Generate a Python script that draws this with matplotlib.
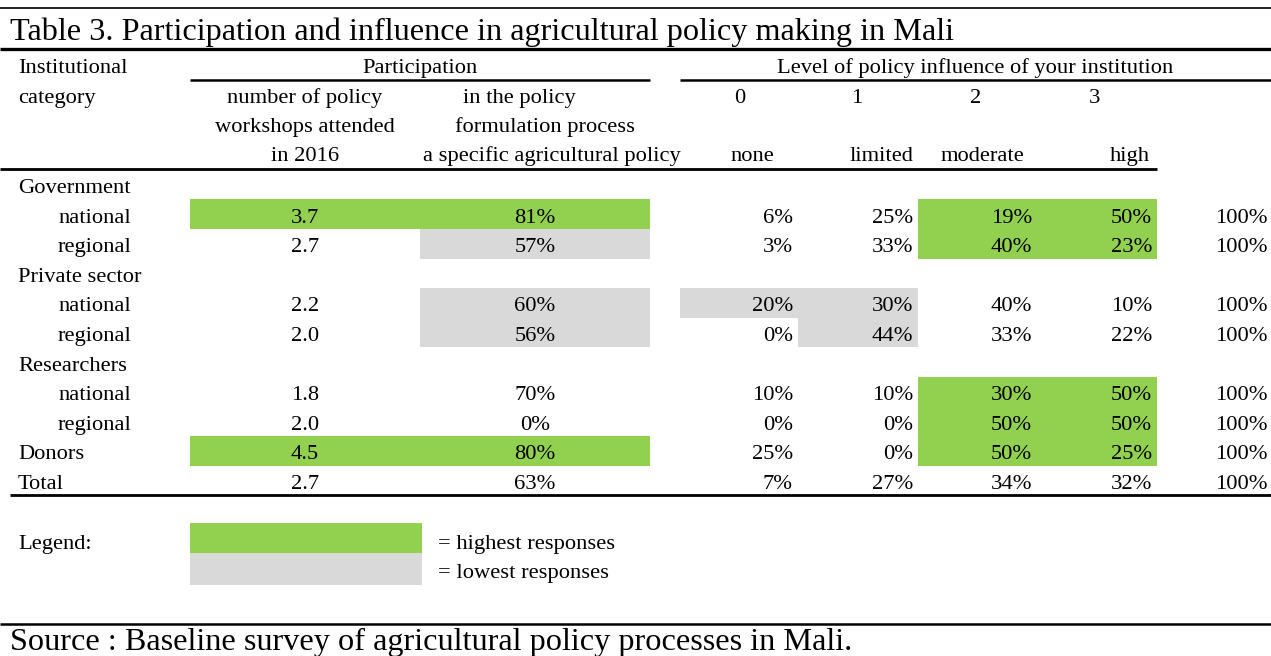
import matplotlib
matplotlib.use("Agg")
import matplotlib.pyplot as plt
from matplotlib.patches import Rectangle

# ---------------- data ----------------
title = "Table 3. Participation and influence in agricultural policy making in Mali"
source = "Source : Baseline survey of agricultural policy processes in Mali."

row_labels = ["Government", "national", "regional", "Private sector", "national", "regional",
              "Researchers", "national", "regional", "Donors", "Total"]
row_indent = [0, 1, 1, 0, 1, 1, 0, 1, 1, 0, 0]
data_rows = [1, 2, 4, 5, 7, 8, 9, 10]

workshops = [3.7, 2.7, 2.2, 2.0, 1.8, 2.0, 4.5, 2.7]
policy_pct = [81, 57, 60, 56, 70, 0, 80, 63]
infl_none = [6, 3, 20, 0, 10, 0, 25, 7]
infl_limited = [25, 33, 30, 44, 10, 0, 0, 27]
infl_moderate = [19, 40, 40, 33, 30, 50, 50, 34]
infl_high = [50, 23, 10, 22, 50, 50, 25, 32]
infl_total = [100, 100, 100, 100, 100, 100, 100, 100]

# highlight codes per data row for columns [workshops, policy, none, limited, moderate, high]
# "G" = highest, "L" = lowest, "" = none
highlights = [
    ["G", "G", "", "", "G", "G"],
    ["", "L", "", "", "G", "G"],
    ["", "L", "L", "L", "", ""],
    ["", "L", "", "L", "", ""],
    ["", "", "", "", "G", "G"],
    ["", "", "", "", "G", "G"],
    ["G", "G", "", "", "G", "G"],
    ["", "", "", "", "", ""],
]

level_nums = ["0", "1", "2", "3"]
level_names = ["none", "limited", "moderate", "high"]

GREEN = "#92D050"
GRAY = "#D9D9D9"

# ---------------- figure ----------------
W, H = 1271, 656
fig = plt.figure(figsize=(W / 100, H / 100), dpi=100)
ax = fig.add_axes([0, 0, 1, 1])
ax.set_xlim(0, W)
ax.set_ylim(H, 0)
ax.axis("off")

FONT = "Liberation Serif"
FS = 16.2
TFS = 23.2

def txt(x, y, s, ha="left", fs=FS):
    # y is the text baseline
    ax.text(x, y, s, ha=ha, va="baseline", fontsize=fs, family=FONT, color="black")

def hline(y, x0, x1, lw):
    ax.plot([x0, x1], [y, y], color="black", lw=lw, solid_capstyle="butt")

# title
hline(8, 0, W, 1.2)
txt(10, 40, title, fs=TFS)
hline(49, 0, W, 2.4)

# header
txt(18, 73, "Institutional")
txt(18, 103, "category")
txt(420, 73, "Participation", ha="center")
hline(80, 190, 650, 1.8)
txt(975, 73, "Level of policy influence of your institution", ha="center")
hline(80, 680, W, 1.8)

txt(305, 103, "number of policy", ha="center")
txt(305, 132, "workshops attended", ha="center")
txt(305, 161, "in 2016", ha="center")
txt(463, 103, "in the policy")
txt(455, 132, "formulation process")
txt(423, 161, "a specific agricultural policy")

num_x = [740, 857, 976, 1094]
for s, x in zip(level_nums, num_x):
    txt(x, 103, s, ha="center")
txt(752, 161, level_names[0], ha="center")
txt(913, 161, level_names[1], ha="right")
txt(941, 161, level_names[2], ha="left")
txt(1150, 161, level_names[3], ha="right")
hline(169, 0, 1157, 2.0)

# body
y0, pitch = 184.5, 29.6
row_y = [y0 + i * pitch for i in range(len(row_labels))]
BASE = 8.5
for lab, ind, y in zip(row_labels, row_indent, row_y):
    txt(18 + 40 * ind, y + BASE, lab)

edges = [190, 420, 650, 680, 798, 918, 1037, 1157]
col_spans = [(edges[0], edges[1]), (edges[1], edges[2]),
             (edges[3], edges[4]), (edges[4], edges[5]),
             (edges[5], edges[6]), (edges[6], edges[7])]

for k, r in enumerate(data_rows):
    y = row_y[r]
    for c, code in enumerate(highlights[k]):
        if code:
            x0, x1 = col_spans[c]
            ax.add_patch(Rectangle((x0, y - pitch / 2), x1 - x0, pitch,
                                   facecolor=GREEN if code == "G" else GRAY,
                                   edgecolor="none", zorder=0))
    yb = y + BASE
    txt((col_spans[0][0] + col_spans[0][1]) / 2, yb, f"{workshops[k]:.1f}", ha="center")
    txt((col_spans[1][0] + col_spans[1][1]) / 2, yb, f"{policy_pct[k]}%", ha="center")
    for c, vals in zip(range(2, 6), [infl_none, infl_limited, infl_moderate, infl_high]):
        txt(col_spans[c][1] - 5, yb, f"{vals[k]}%", ha="right")
    txt(1268, yb, f"{infl_total[k]}%", ha="right")

hline(495, 10, W, 2.0)

# legend
ax.add_patch(Rectangle((190, 523), 232, 30, facecolor=GREEN, edgecolor="none"))
ax.add_patch(Rectangle((190, 553), 232, 32, facecolor=GRAY, edgecolor="none"))
txt(18, 549, "Legend:")
txt(438, 549, "= highest responses")
txt(438, 578, "= lowest responses")

# source
hline(624, 0, W, 1.8)
txt(10, 650, source, fs=TFS)

fig.savefig("out.png", dpi=100)
